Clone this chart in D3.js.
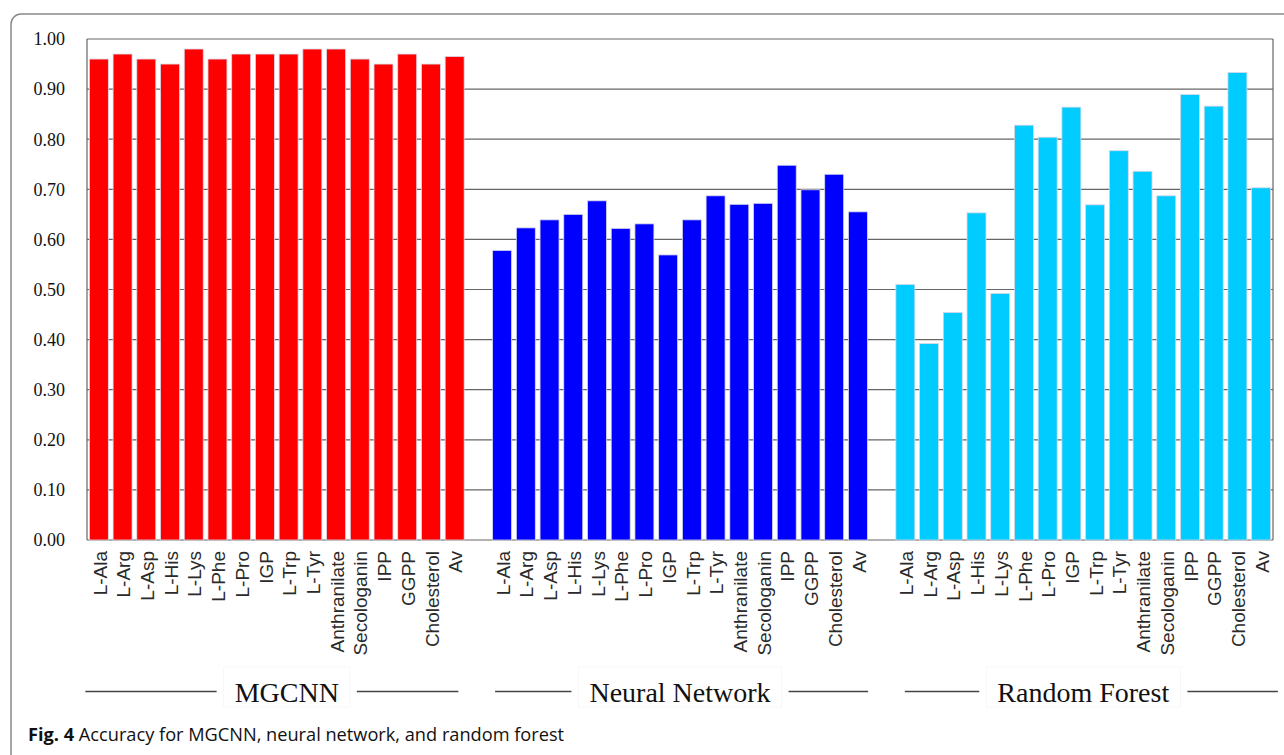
<!DOCTYPE html>
<html>
<head>
<meta charset="utf-8">
<script src="https://cdn.jsdelivr.net/npm/d3@7"></script>
<style>
  body { margin: 0; background: #fff; }
  svg { display: block; }
</style>
</head>
<body>
<div id="chart"></div>
<script>
// Data
const categories = ["L-Ala", "L-Arg", "L-Asp", "L-His", "L-Lys", "L-Phe", "L-Pro", "IGP",
    "L-Trp", "L-Tyr", "Anthranilate", "Secologanin", "IPP", "GGPP", "Cholesterol", "Av"];
const methods = ["MGCNN", "Neural Network", "Random Forest"];
const mgcnnValues = [0.96, 0.97, 0.96, 0.95, 0.98, 0.96, 0.97, 0.97, 0.97, 0.98, 0.98, 0.96, 0.95, 0.97, 0.95, 0.965];
const nnValues = [0.578, 0.623, 0.639, 0.650, 0.677, 0.622, 0.631, 0.569, 0.639, 0.687, 0.670, 0.672, 0.748, 0.699, 0.730, 0.655];
const rfValues = [0.510, 0.392, 0.454, 0.653, 0.492, 0.828, 0.804, 0.864, 0.669, 0.777, 0.736, 0.687, 0.889, 0.866, 0.933, 0.703];
const yTicks = [0, 0.1, 0.2, 0.3, 0.4, 0.5, 0.6, 0.7, 0.8, 0.9, 1.0];
const colors = ["#ff0000", "#0000ff", "#00ccff"];
const caption = "Accuracy for MGCNN, neural network, and random forest";

const width = 1284, height = 755;
const margin = {top: 39, right: 11, bottom: 215, left: 87};

let svg = d3.select("#chart").append("svg")
    .attr("width", width)
    .attr("height", height);

// outer frame (bottom runs off the picture)
svg.append("rect")
    .attr("x", 11).attr("y", 14)
    .attr("width", 1290).attr("height", 800)
    .attr("rx", 10)
    .attr("fill", "none")
    .attr("stroke", "#8a8a8a")
    .attr("stroke-width", 1.5);

// flatten into one band per bar, with an empty slot between groups
let seriesList = [mgcnnValues, nnValues, rfValues];
let slots = [];
let bars = [];
methods.forEach(function(m, gi) {
    categories.forEach(function(c, ci) {
        let key = m + "|" + c;
        slots.push(key);
        bars.push({key: key, group: gi, cat: c, value: seriesList[gi][ci]});
    });
    if (gi < methods.length - 1) slots.push("gap" + gi);
});

let x = d3.scaleBand()
    .domain(slots)
    .range([margin.left, width - margin.right])
    .paddingInner(0.2)
    .paddingOuter(0.1);

let y = d3.scaleLinear()
    .domain([0, 1])
    .range([height - margin.bottom, margin.top]);

// gridlines
svg.append("g")
    .selectAll("line")
    .data(yTicks)
    .enter()
    .append("line")
    .attr("x1", margin.left)
    .attr("x2", width - margin.right)
    .attr("y1", d => y(d))
    .attr("y2", d => y(d))
    .attr("stroke", "#666")
    .attr("stroke-width", 1.2);

// side borders
svg.append("line")
    .attr("x1", margin.left).attr("x2", margin.left)
    .attr("y1", y(1)).attr("y2", y(0))
    .attr("stroke", "#666").attr("stroke-width", 1.2);
svg.append("line")
    .attr("x1", width - margin.right).attr("x2", width - margin.right)
    .attr("y1", y(1)).attr("y2", y(0))
    .attr("stroke", "#666").attr("stroke-width", 1.2);

// y tick labels
svg.append("g")
    .selectAll("text")
    .data(yTicks)
    .enter()
    .append("text")
    .attr("x", 65)
    .attr("y", d => y(d))
    .attr("dy", "0.35em")
    .attr("text-anchor", "end")
    .style("font-family", "'Liberation Serif', 'Times New Roman', serif")
    .style("font-size", "18px")
    .attr("fill", "#111")
    .text(d => d3.format(".2f")(d));

// bars
svg.append("g")
    .selectAll("rect")
    .data(bars)
    .enter()
    .append("rect")
    .attr("x", d => x(d.key))
    .attr("y", d => y(d.value))
    .attr("width", x.bandwidth())
    .attr("height", d => y(0) - y(d.value))
    .attr("fill", d => colors[d.group])
    .attr("stroke", "#d8d8e8")
    .attr("stroke-width", 0.8);

// category labels
svg.append("g")
    .selectAll("text")
    .data(bars)
    .enter()
    .append("text")
    .attr("transform", d => `translate(${x(d.key) + x.bandwidth() / 2 + 1}, ${y(0) + 11}) rotate(-90)`)
    .attr("dy", "0.35em")
    .attr("text-anchor", "end")
    .style("font-family", "'Liberation Sans', Arial, sans-serif")
    .style("font-size", "19px")
    .attr("fill", "#2a2a2a")
    .text(d => d.cat);

// group titles with rules either side
methods.forEach(function(m, gi) {
    let first = x(m + "|" + categories[0]);
    let last = x(m + "|" + categories[categories.length - 1]) + x.bandwidth();
    let cx = (first + last) / 2 + (gi === 0 ? 10 : 0);
    let x1 = first - 4 + 6.5 * gi;
    let x2 = x1 + 373;
    let g = svg.append("g");
    let t = g.append("text")
        .attr("x", cx)
        .attr("y", 702)
        .attr("text-anchor", "middle")
        .style("font-family", "'Liberation Serif', 'Times New Roman', serif")
        .style("font-size", "28px")
        .attr("fill", "#111")
        .text(m);
    let bb = t.node().getBBox();
    g.insert("rect", "text")
        .attr("x", bb.x - 11).attr("y", 667)
        .attr("width", bb.width + 22).attr("height", 40)
        .attr("fill", "none")
        .attr("stroke", "#f7f7f7");
    g.append("line")
        .attr("x1", x1).attr("x2", bb.x - 18)
        .attr("y1", 691.5).attr("y2", 691.5)
        .attr("stroke", "#444").attr("stroke-width", 1.3);
    g.append("line")
        .attr("x1", bb.x + bb.width + 18).attr("x2", x2)
        .attr("y1", 691.5).attr("y2", 691.5)
        .attr("stroke", "#444").attr("stroke-width", 1.3);
});

// caption
let cap = svg.append("text")
    .attr("x", 28)
    .attr("y", 741)
    .style("font-family", "'Open Sans', 'Noto Sans', sans-serif")
    .style("font-size", "18.2px")
    .attr("fill", "#111");
cap.append("tspan").style("font-weight", "bold").text("Fig. 4");
cap.append("tspan").text(" " + caption);
</script>
</body>
</html>
